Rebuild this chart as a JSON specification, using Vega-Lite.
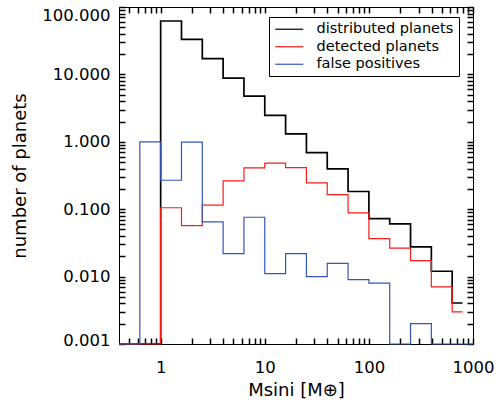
{
  "$schema": "https://vega.github.io/schema/vega-lite/v6.json",
  "width": 354,
  "height": 337,
  "autosize": {"type": "none"},
  "padding": {"left": 119, "top": 7, "right": 23, "bottom": 62},
  "data": {
    "values": [
      {"series": "distributed planets", "mass": 0.398, "n": 0.001},
      {"series": "distributed planets", "mass": 1, "n": 62},
      {"series": "distributed planets", "mass": 1.585, "n": 33},
      {"series": "distributed planets", "mass": 2.512, "n": 17.1},
      {"series": "distributed planets", "mass": 3.981, "n": 8.8},
      {"series": "distributed planets", "mass": 6.31, "n": 4.75},
      {"series": "distributed planets", "mass": 10, "n": 2.46},
      {"series": "distributed planets", "mass": 15.85, "n": 1.31},
      {"series": "distributed planets", "mass": 25.12, "n": 0.69},
      {"series": "distributed planets", "mass": 39.81, "n": 0.397},
      {"series": "distributed planets", "mass": 63.1, "n": 0.183},
      {"series": "distributed planets", "mass": 100, "n": 0.0726},
      {"series": "distributed planets", "mass": 158.5, "n": 0.0606},
      {"series": "distributed planets", "mass": 251.2, "n": 0.0276},
      {"series": "distributed planets", "mass": 398.1, "n": 0.012},
      {"series": "distributed planets", "mass": 631, "n": 0.00406},
      {"series": "distributed planets", "mass": 794, "n": 0.00406},
      {"series": "detected planets", "mass": 0.398, "n": 0.001},
      {"series": "detected planets", "mass": 1, "n": 0.105},
      {"series": "detected planets", "mass": 1.585, "n": 0.0571},
      {"series": "detected planets", "mass": 2.512, "n": 0.1146},
      {"series": "detected planets", "mass": 3.981, "n": 0.264},
      {"series": "detected planets", "mass": 6.31, "n": 0.411},
      {"series": "detected planets", "mass": 10, "n": 0.481},
      {"series": "detected planets", "mass": 15.85, "n": 0.415},
      {"series": "detected planets", "mass": 25.12, "n": 0.246},
      {"series": "detected planets", "mass": 39.81, "n": 0.165},
      {"series": "detected planets", "mass": 63.1, "n": 0.088},
      {"series": "detected planets", "mass": 100, "n": 0.0366},
      {"series": "detected planets", "mass": 158.5, "n": 0.0265},
      {"series": "detected planets", "mass": 251.2, "n": 0.0173},
      {"series": "detected planets", "mass": 398.1, "n": 0.00705},
      {"series": "detected planets", "mass": 631, "n": 0.003},
      {"series": "detected planets", "mass": 794, "n": 0.003},
      {"series": "false positives", "mass": 0.398, "n": 0.001},
      {"series": "false positives", "mass": 0.631, "n": 1.0},
      {"series": "false positives", "mass": 1, "n": 0.269},
      {"series": "false positives", "mass": 1.585, "n": 0.99},
      {"series": "false positives", "mass": 2.512, "n": 0.0648},
      {"series": "false positives", "mass": 3.981, "n": 0.0219},
      {"series": "false positives", "mass": 6.31, "n": 0.0759},
      {"series": "false positives", "mass": 10, "n": 0.0111},
      {"series": "false positives", "mass": 15.85, "n": 0.0219},
      {"series": "false positives", "mass": 25.12, "n": 0.01},
      {"series": "false positives", "mass": 39.81, "n": 0.0157},
      {"series": "false positives", "mass": 63.1, "n": 0.009},
      {"series": "false positives", "mass": 100, "n": 0.008},
      {"series": "false positives", "mass": 158.5, "n": 0.001},
      {"series": "false positives", "mass": 251.2, "n": 0.002},
      {"series": "false positives", "mass": 398.1, "n": 0.001},
      {"series": "false positives", "mass": 1000, "n": 0.001}
    ]
  },
  "config": {
    "view": {"stroke": "black", "strokeWidth": 1},
    "axis": {
      "grid": false,
      "labelFont": "DejaVu Sans",
      "labelFontSize": 16.5,
      "labelColor": "black",
      "titleFont": "DejaVu Sans",
      "titleFontSize": 18,
      "titleFontWeight": "normal",
      "titleColor": "black",
      "domainColor": "black",
      "labelFlush": false,
      "labelOverlap": false
    },
    "legend": {
      "labelFont": "DejaVu Sans",
      "labelFontSize": 14.5,
      "labelColor": "black"
    }
  },
  "resolve": {"axis": {"x": "independent", "y": "independent"}},
  "layer": [
    {
      "mark": {"type": "point", "opacity": 0},
      "encoding": {
        "x": {"field": "mass", "type": "quantitative",
          "scale": {"type": "log", "domain": [0.398, 1000], "nice": false},
          "axis": {"orient": "top", "values": [0.5, 0.6, 0.7, 0.8, 0.9, 1, 2, 3, 4, 5, 6, 7, 8, 9, 10, 20, 30, 40, 50, 60, 70, 80, 90, 100, 200, 300, 400, 500, 600, 700, 800, 900, 1000], "tickSize": -6, "tickWidth": 1.5, "tickColor": "black", "labels": false, "domain": false, "title": null}},
        "y": {"field": "n", "type": "quantitative",
          "scale": {"type": "log", "domain": [0.001, 100], "nice": false},
          "axis": {"orient": "right", "values": [0.001, 0.002, 0.003, 0.004, 0.005, 0.006, 0.007, 0.008, 0.009, 0.01, 0.02, 0.03, 0.04, 0.05, 0.06, 0.07, 0.08, 0.09, 0.1, 0.2, 0.3, 0.4, 0.5, 0.6, 0.7, 0.8, 0.9, 1, 2, 3, 4, 5, 6, 7, 8, 9, 10, 20, 30, 40, 50, 60, 70, 80, 90, 100], "tickSize": -6, "tickWidth": 1.5, "tickColor": "black", "labels": false, "domain": false, "title": null}}
      }
    },
    {
      "mark": {"type": "line", "interpolate": "step-after"},
      "encoding": {
        "x": {"field": "mass", "type": "quantitative",
          "scale": {"type": "log", "domain": [0.398, 1000], "nice": false},
          "axis": {"orient": "bottom", "values": [0.5, 0.6, 0.7, 0.8, 0.9, 1, 2, 3, 4, 5, 6, 7, 8, 9, 10, 20, 30, 40, 50, 60, 70, 80, 90, 100, 200, 300, 400, 500, 600, 700, 800, 900, 1000], "format": "d",
            "labelExpr": "indexof([1, 10, 100, 1000], datum.value) >= 0 ? datum.label : ''",
            "tickSize": -6, "tickWidth": 1.5, "tickColor": "black", "labelPadding": 21, "title": "Msini [M⊕]", "titlePadding": 6}},
        "y": {"field": "n", "type": "quantitative",
          "scale": {"type": "log", "domain": [0.001, 100], "nice": false},
          "axis": {"orient": "left", "values": [0.001, 0.002, 0.003, 0.004, 0.005, 0.006, 0.007, 0.008, 0.009, 0.01, 0.02, 0.03, 0.04, 0.05, 0.06, 0.07, 0.08, 0.09, 0.1, 0.2, 0.3, 0.4, 0.5, 0.6, 0.7, 0.8, 0.9, 1, 2, 3, 4, 5, 6, 7, 8, 9, 10, 20, 30, 40, 50, 60, 70, 80, 90, 100], "format": ".3f",
            "labelExpr": "indexof([0.001, 0.01, 0.1, 1, 10, 100], datum.value) >= 0 ? datum.label : ''",
            "tickSize": -6, "tickWidth": 1.5, "tickColor": "black", "labelPadding": 15,
            "labelBaseline": {"condition": {"test": "datum.value > 95", "value": "top"}, "value": "middle"},
            "labelOffset": {"condition": {"test": "datum.value < 0.0015", "value": -4}, "value": 0},
            "title": "number of planets", "titlePadding": 12}},
        "color": {"field": "series", "type": "nominal",
          "scale": {"domain": ["distributed planets", "detected planets", "false positives"], "range": ["#000000", "#ff1a1a", "#3355bb"]},
          "legend": {"orient": "none", "legendX": 150, "legendY": 10, "title": null, "strokeColor": "black", "fillColor": "white", "padding": 5,
            "symbolType": "M-1.2,0H4.4", "symbolSize": 100, "symbolStrokeWidth": 1.2, "labelOffset": 28, "rowPadding": 2.5}},
        "strokeWidth": {"condition": {"test": "datum.series === 'distributed planets'", "value": 1.7}, "value": 1.2}
      }
    }
  ]
}
